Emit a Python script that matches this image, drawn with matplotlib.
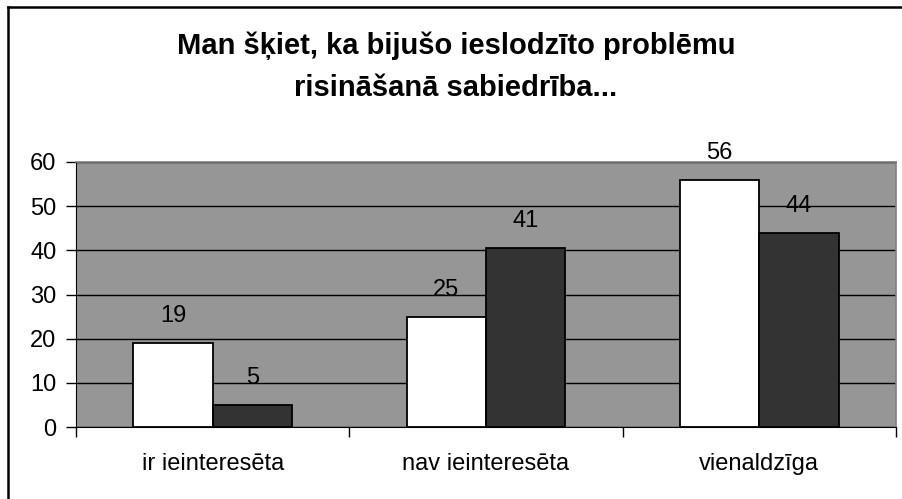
import matplotlib
matplotlib.use("Agg")
import matplotlib.pyplot as plt
from matplotlib.lines import Line2D
import numpy as np

# ======= DATA =======
categories = ["ir ieinteresēta", "nav ieinteresēta", "vienaldzīga"]
series_a = [19, 25, 56]      # white bars
series_b = [5, 40.6, 44]     # dark bars (label shows 41)
yticks = [0, 10, 20, 30, 40, 50, 60]
title = "Man šķiet, ka bijušo ieslodzīto problēmu\nrisināšanā sabiedrība..."

plt.rcParams['font.family'] = ['Liberation Sans', 'DejaVu Sans']
fs = 17

W, H = 902, 499
fig = plt.figure(figsize=(W / 100, H / 100), dpi=100)

# plot area in pixel coordinates
left, right, top, bottom = 76, 896, 162, 427
ax = fig.add_axes([left / W, 1 - bottom / H, (right - left) / W, (bottom - top) / H])
ax.set_facecolor("#969696")

x = np.arange(len(categories))
bw = 0.29
bars_a = ax.bar(x - bw / 2, series_a, bw, color="white", edgecolor="black", linewidth=1.3, zorder=3)
bars_b = ax.bar(x + bw / 2, series_b, bw, color="#333333", edgecolor="black", linewidth=1.3, zorder=3)

for bars in (bars_a, bars_b):
    for b in bars:
        h = b.get_height()
        ax.annotate(f"{h:.0f}", (b.get_x() + b.get_width() / 2, h),
                    xytext=(0, 27), textcoords="offset pixels",
                    ha="center", va="center", fontsize=fs, zorder=4)

ax.set_xlim(-0.5, 2.5)
ax.set_ylim(0, 60)
ax.set_yticks(yticks)
ax.grid(axis="y", color="black", linewidth=1.0, zorder=1)
ax.tick_params(axis="y", direction="out", length=7, width=1, labelsize=fs, pad=7)

ax.set_xticks(x)
ax.set_xticklabels(categories, fontsize=fs)
ax.tick_params(axis="x", which="major", length=0, pad=19)
ax.set_xticks([-0.5, 0.5, 1.5, 2.5], minor=True)
ax.tick_params(axis="x", which="minor", direction="out", length=7, width=1)

for s in ("top", "right"):
    ax.spines[s].set_color("#808080")
    ax.spines[s].set_linewidth(1.2)
ax.spines["left"].set_color("black")
ax.spines["bottom"].set_color("black")

fig.text(456 / W, 1 - 67 / H, title, ha="center", va="center",
         fontsize=21, fontweight="bold", linespacing=1.62)

# chart frame (only left and top edges visible)
fig.add_artist(Line2D([8 / W, 8 / W], [0, 1 - 7 / H], color="black", linewidth=1.8))
fig.add_artist(Line2D([8 / W, 1], [1 - 7 / H, 1 - 7 / H], color="black", linewidth=1.8))

fig.savefig("out.png", dpi=100, facecolor="white")
